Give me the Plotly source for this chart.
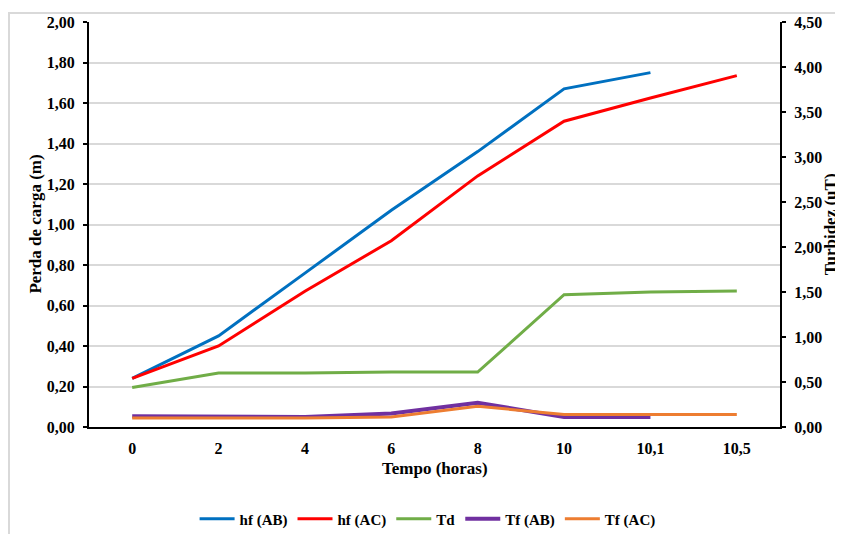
import plotly.graph_objects as go

categories = ["0", "2", "4", "6", "8", "10", "10,1", "10,5"]
hf_ab = [0.24, 0.45, 0.76, 1.07, 1.36, 1.67, 1.75, None]
hf_ac = [0.24, 0.40, 0.67, 0.92, 1.24, 1.51, 1.625, 1.735]
td = [0.44, 0.60, 0.60, 0.61, 0.61, 1.47, 1.50, 1.51]
tf_ab = [0.12, 0.11, 0.11, 0.15, 0.27, 0.11, 0.11, None]
tf_ac = [0.10, 0.10, 0.10, 0.11, 0.23, 0.14, 0.14, 0.14]

left_ticks = [i * 0.2 for i in range(11)]
left_labels = [f"{v:.2f}".replace(".", ",") for v in left_ticks]
right_ticks = [i * 0.5 for i in range(10)]
right_labels = [f"{v:.2f}".replace(".", ",") for v in right_ticks]

FONT = "Liberation Serif, Times New Roman, serif"
TICK = dict(family=FONT, size=16, color="#000000", weight="bold")
TITLE = dict(family=FONT, size=17, color="#000000", weight="bold")

fig = go.Figure()
fig.add_trace(go.Scatter(x=categories, y=hf_ab, name="hf (AB)", mode="lines",
                         line=dict(color="#0070C0", width=3), yaxis="y"))
fig.add_trace(go.Scatter(x=categories, y=hf_ac, name="hf (AC)", mode="lines",
                         line=dict(color="#FF0000", width=3), yaxis="y"))
fig.add_trace(go.Scatter(x=categories, y=td, name="Td", mode="lines",
                         line=dict(color="#70AD47", width=3), yaxis="y2"))
fig.add_trace(go.Scatter(x=categories, y=tf_ab, name="Tf (AB)", mode="lines",
                         line=dict(color="#7030A0", width=4), yaxis="y2"))
fig.add_trace(go.Scatter(x=categories, y=tf_ac, name="Tf (AC)", mode="lines",
                         line=dict(color="#ED7D31", width=3), yaxis="y2"))

fig.update_layout(
    width=835, height=526,
    margin=dict(l=81, r=63, t=14, b=107, autoexpand=False),
    paper_bgcolor="white", plot_bgcolor="white",
    font=dict(family=FONT, size=15, color="#000000", weight="bold"),
    showlegend=True,
    legend=dict(orientation="h", x=0.49, xanchor="center", y=-0.227, yanchor="middle",
                font=dict(family=FONT, size=15, color="#000000", weight="bold"),
                itemwidth=35, tracegroupgap=0),
    xaxis=dict(
        type="category", categoryorder="array", categoryarray=categories,
        range=[-0.5, 7.5], automargin=False,
        showline=True, linecolor="#000000", linewidth=2,
        showgrid=False, ticks="", zeroline=False,
        tickfont=TICK, ticklabelstandoff=6,
    ),
    yaxis=dict(
        range=[0, 2.0], tickvals=left_ticks, ticktext=left_labels, automargin=False,
        showline=True, linecolor="#000000", linewidth=2,
        showgrid=True, gridcolor="#D9D9D9", gridwidth=1.5,
        ticks="outside", ticklen=4, tickcolor="#000000", tickwidth=1.5,
        zeroline=False, tickfont=TICK, ticklabelstandoff=5,
    ),
    yaxis2=dict(
        overlaying="y", side="right", automargin=False,
        range=[0, 4.5], tickvals=right_ticks, ticktext=right_labels,
        showline=True, linecolor="#000000", linewidth=2,
        showgrid=False, ticks="outside", ticklen=4, tickcolor="#000000", tickwidth=1.5,
        zeroline=False, tickfont=TICK, ticklabelstandoff=5,
    ),
    annotations=[
        dict(text="Perda de carga (m)", textangle=-90, xref="paper", yref="paper",
             x=-0.078, y=0.5, xanchor="center", yanchor="middle", showarrow=False, font=TITLE),
        dict(text="Turbidez (uT)", textangle=-90, xref="paper", yref="paper",
             x=1.0735, y=0.5, xanchor="center", yanchor="middle", showarrow=False, font=TITLE),
        dict(text="Tempo (horas)", xref="paper", yref="paper",
             x=0.5, y=-0.103, xanchor="center", yanchor="middle", showarrow=False, font=TITLE),
    ],
)

# outer chart border (light gray)
fig.add_shape(type="rect", xref="paper", yref="paper",
              x0=-0.1158, x1=1.3, y0=-0.4, y1=1.022,
              line=dict(color="#D9D9D9", width=2), fillcolor="rgba(0,0,0,0)",
              layer="below")

fig.write_html("out.html")
